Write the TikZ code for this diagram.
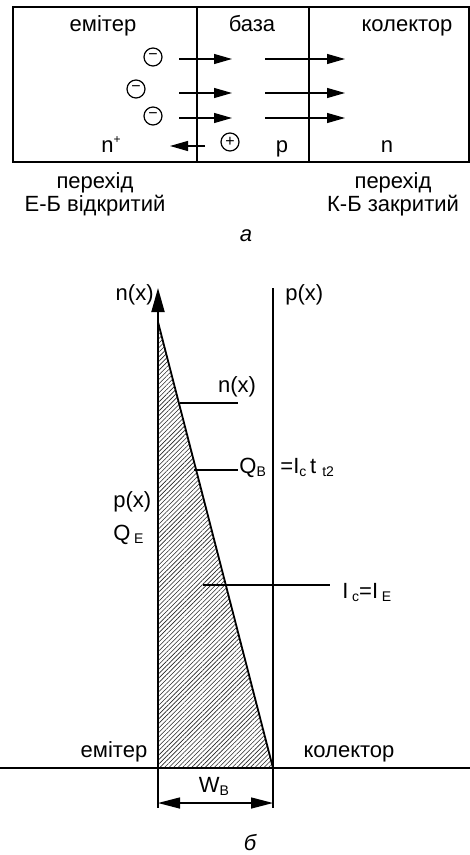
\documentclass[tikz,border=0pt]{standalone}
\usepackage{fontspec}
\setmainfont{Liberation Sans}
\usetikzlibrary{arrows.meta,patterns.meta}
\newcommand{\lsub}[1]{\raisebox{-0.3ex}{\fontsize{7}{7}\selectfont #1}}

\begin{document}
\begin{tikzpicture}[x=0.5pt,y=-0.5pt,
   lbl/.style={inner sep=0pt,anchor=base,font=\fontsize{11}{13}\selectfont},
   jct/.style={inner sep=0pt,align=center,font=\fontsize{11}{9}\selectfont},
   chg/.style={circle,draw,line width=0.6pt,minimum size=9pt,inner sep=0pt,
               font=\fontsize{8}{8}\selectfont},
   ln/.style={line width=0.9pt},
   ld/.style={line width=0.7pt},
   arr/.style={line width=0.6pt,-{Triangle[length=9pt,width=5pt]}}]
  \useasboundingbox (0,0) rectangle (470,855);
  % --- a: structure of the transistor
  \draw[ln] (13,7) rectangle (469,162);
  \draw[ln] (197,7) -- (197,162);
  \draw[ln] (309,7) -- (309,162);
  \node[lbl] (em) at (103,32) {емітер};
  \node[lbl] (bs) at (252,32) {база};
  \node[lbl] (kl) at (407,32) {колектор};
  \node[chg] (q1) at (153,57) {−};
  \node[chg] (q2) at (136,89) {−};
  \node[chg] (q3) at (153,116) {−};
  \node[chg] (q4) at (230,142) {+};
  \node[lbl] (np) at (111,153) {n\raisebox{0.8ex}{\fontsize{6}{6}\selectfont +}};
  \node[lbl] (pb) at (282,153) {p};
  \node[lbl] (nk) at (387,153) {n};
  \foreach \y/\k in {59/1,93/2,118/3}{
    \coordinate (a\k) at (179,\y); \coordinate (b\k) at (232,\y);
    \coordinate (c\k) at (265,\y); \coordinate (d\k) at (345,\y);
    \draw[arr] (a\k) -- (b\k);
    \draw[arr] (c\k) -- (d\k);
  }
  \coordinate (h1) at (205,146); \coordinate (h2) at (170,146);
  \draw[arr] (h1) -- (h2);
  \node[jct] (jeb) at (95,194) {перехід\\Е-Б відкритий};
  \node[jct] (jkb) at (393,194) {перехід\\К-Б закритий};
  \node[lbl,font=\fontsize{11}{13}\selectfont\itshape] (ca) at (246,242) {а};
  % --- b: carrier distribution in the base
  \coordinate (o) at (158,768);
  \coordinate (c) at (273,768);
  \coordinate (ax) at (158,288);
  \coordinate (px) at (273,288);
  \coordinate (apx) at (158,322);
  \fill[pattern={Lines[angle=45,distance=1.6pt,line width=0.3pt]},pattern color=black!85]
     (apx) -- (c) -- (o) -- cycle;
  \draw[ln] (apx) -- (c);
  \draw[ln,-{Triangle[length=12pt,width=6.5pt]}] (o) -- (ax);
  \draw[ln] (c) -- (px);
  \draw[ln] (0,768) -- (470,768);
  \draw[ld] (o) -- (158,808);
  \draw[ld] (c) -- (273,808);
  \draw[ld,{Triangle[length=11pt,width=5.5pt]}-{Triangle[length=11pt,width=5.5pt]}] (158,803) -- (273,803);
  \node[lbl,anchor=base east] (nx) at (154,300) {n(x)};
  \node[lbl,anchor=base west] (pxl) at (285,300) {p(x)};
  \node[lbl] (nx2) at (237,392) {n(x)};
  \draw[ld] (180,403) -- (238,403);
  \node[lbl,anchor=base west] (qb) at (239,473) {Q\lsub{B}};
  \node[lbl,anchor=base west] (ic) at (280,473) {=I\lsub{c}\,t \lsub{t2}};
  \draw[ld] (194,470) -- (238,470);
  \node[lbl,anchor=base west] (px2) at (113,507) {p(x)};
  \node[lbl,anchor=base west] (qe) at (113,540) {Q\,\lsub{E}};
  \node[lbl,anchor=base west] (ie) at (342,598) {I\,\lsub{c}=I\,\lsub{E}};
  \draw[ld] (203,585) -- (330,585);
  \node[lbl] (emb) at (114,757) {емітер};
  \node[lbl] (klb) at (349,757) {колектор};
  \node[lbl] (wb) at (214,792) {W\lsub{B}};
  \node[lbl,font=\fontsize{11}{13}\selectfont\itshape] (cb) at (250,850) {б};
\end{tikzpicture}
\end{document}
